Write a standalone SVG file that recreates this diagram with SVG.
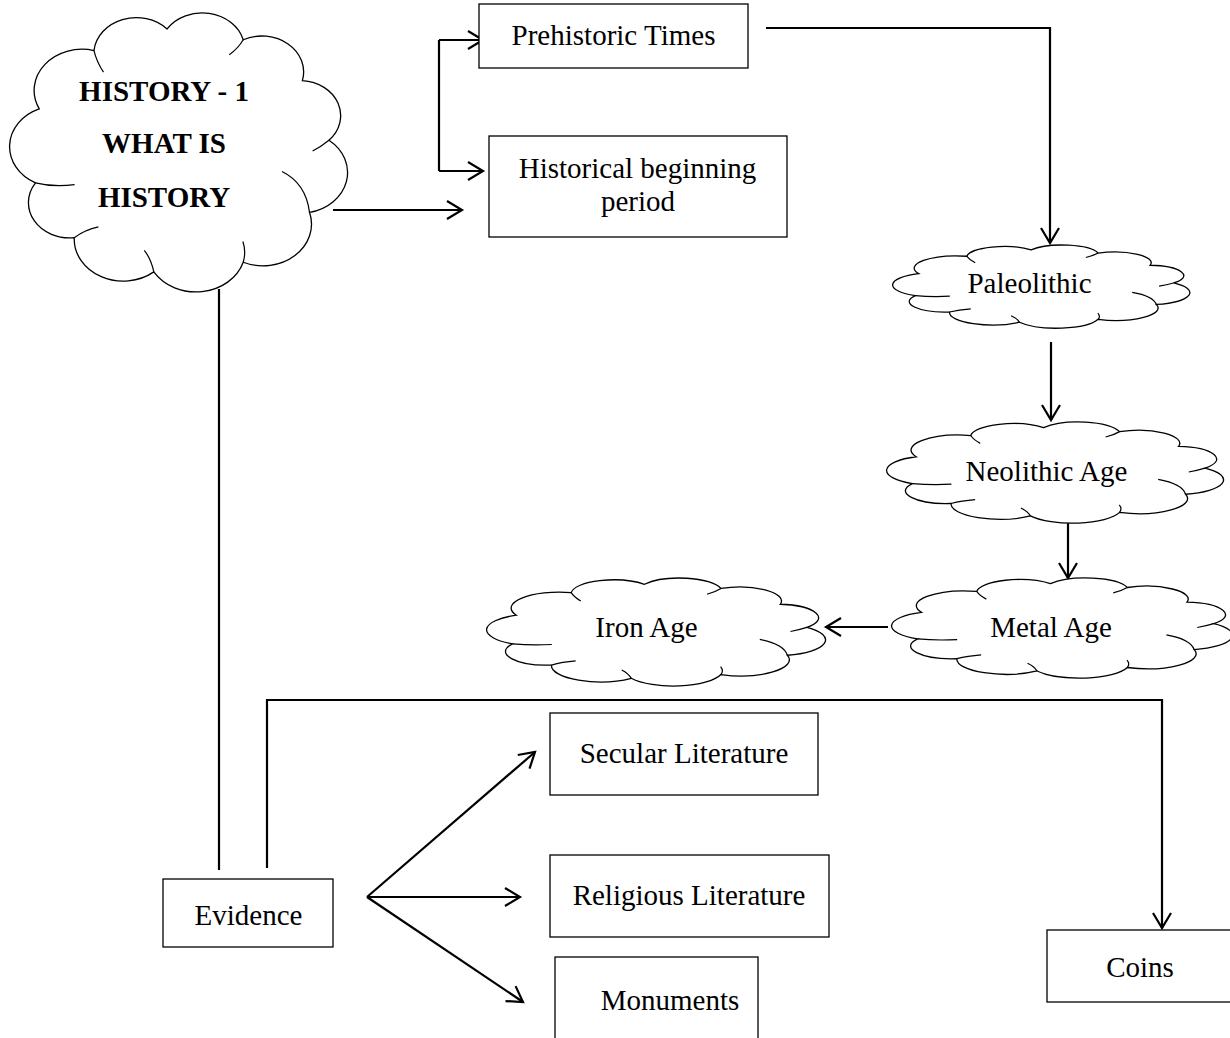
<svg xmlns="http://www.w3.org/2000/svg" width="1230" height="1038" viewBox="0 0 1230 1038">
<style>
.box{fill:#fff;stroke:#000;stroke-width:1.3}
.lbl{font-family:"Liberation Serif","Times New Roman",serif;font-size:29px;text-anchor:middle;fill:#000}
.title{font-family:"Liberation Serif","Times New Roman",serif;font-weight:bold;font-size:29px;text-anchor:middle;fill:#000}
.conn{fill:none;stroke:#000;stroke-width:2.2}
.cl{fill:#fff;stroke:#000;stroke-width:1.3;vector-effect:non-scaling-stroke}
.ci{fill:none;stroke:#000;stroke-width:1.2;vector-effect:non-scaling-stroke}
</style>
<defs>
<marker id="ah" markerUnits="userSpaceOnUse" markerWidth="20" markerHeight="22" refX="16" refY="10" orient="auto" overflow="visible">
<path d="M1,1 L16,10 L1,19" fill="none" stroke="#000" stroke-width="2.2"/>
</marker>
<symbol id="cloud" viewBox="0 0 100 100" preserveAspectRatio="none" overflow="visible">
<path class="cl" d="M8.6,35.6 A14.1,14.1 0 0 1 24.7,15.6 A12.5,12.5 0 0 1 46.2,8.2 A12.5,12.5 0 0 1 68.6,11.9 A12.3,12.3 0 0 1 86,25.9 A12,12 0 0 1 93.8,46.3 A13.9,13.9 0 0 1 88.1,71 A14.3,14.3 0 0 1 68.6,88.1 A14.6,14.6 0 0 1 42.3,91.4 A14.4,14.4 0 0 1 18.9,79.7 A12.1,12.1 0 0 1 7.5,60.9 A13.9,13.9 0 0 1 8.6,35.6 Z"/>
<path class="ci" d="M7.5,60.9 Q13,62.5 19,61.5 M88.1,71 Q87,61 80,57 M42.3,91.4 Q41.5,87 39.5,84 M68.6,88.1 Q69.5,84.5 68.5,81 M24.7,15.6 Q25.5,19.5 27.5,23 M68.6,11.9 Q67,15 64.5,17 M18.9,79.7 Q22,77 26,76 M93.8,46.3 Q91.5,48.5 89,50"/>
</symbol>
</defs>
<rect width="1230" height="1038" fill="#fff"/>

<g id="connectors">
<path class="conn" d="M333,210 H462" marker-end="url(#ah)"/>
<path class="conn" d="M439,40 V171"/>
<path class="conn" d="M439,40 H483" marker-end="url(#ah)"/>
<path class="conn" d="M439,171 H483" marker-end="url(#ah)"/>
<path class="conn" d="M766,28 H1050 V243" marker-end="url(#ah)"/>
<path class="conn" d="M1051,342 V420" marker-end="url(#ah)"/>
<path class="conn" d="M1068,523 V578" stroke-width="2.8" marker-end="url(#ah)"/>
<path class="conn" d="M888,627 H826" marker-end="url(#ah)"/>
<path class="conn" d="M219,289 V870"/>
<path class="conn" d="M267,868 V700 H1162 V928" marker-end="url(#ah)"/>
<path class="conn" d="M367,897 L535,752" marker-end="url(#ah)"/>
<path class="conn" d="M367,897 H520" marker-end="url(#ah)"/>
<path class="conn" d="M367,897 L523,1002" marker-end="url(#ah)"/>
</g>

<g id="history">
<use href="#cloud" x="10" y="5" width="340" height="292"/>
<text class="title" x="164" y="101">HISTORY - 1</text>
<text class="title" x="164" y="153">WHAT IS</text>
<text class="title" x="164" y="207">HISTORY</text>
</g>

<g id="prehistoric">
<rect class="box" x="479" y="4" width="269" height="64"/>
<text class="lbl" x="613.5" y="45">Prehistoric Times</text>
</g>

<g id="historical">
<rect class="box" x="489" y="136" width="298" height="101"/>
<text class="lbl" x="637.5" y="177.5">Historical beginning</text>
<text class="lbl" x="638" y="211">period</text>
</g>

<g id="paleolithic">
<use href="#cloud" x="893" y="242.7" width="299" height="87"/>
<text class="lbl" x="1029.5" y="293">Paleolithic</text>
</g>

<g id="neolithic">
<use href="#cloud" x="887" y="419" width="339" height="106"/>
<text class="lbl" x="1046.5" y="481">Neolithic Age</text>
</g>

<g id="metal">
<use href="#cloud" x="892" y="575" width="343" height="105"/>
<text class="lbl" x="1051" y="637">Metal Age</text>
</g>

<g id="iron">
<use href="#cloud" x="487" y="575" width="341" height="113"/>
<text class="lbl" x="646.5" y="637">Iron Age</text>
</g>

<g id="evidence">
<rect class="box" x="163" y="879" width="170" height="68"/>
<text class="lbl" x="248.5" y="925">Evidence</text>
</g>

<g id="secular">
<rect class="box" x="550" y="713" width="268" height="82"/>
<text class="lbl" x="684" y="763">Secular Literature</text>
</g>

<g id="religious">
<rect class="box" x="550" y="855" width="279" height="82"/>
<text class="lbl" x="689" y="905">Religious Literature</text>
</g>

<g id="monuments">
<rect class="box" x="555" y="957" width="203" height="95"/>
<text class="lbl" x="670" y="1010">Monuments</text>
</g>

<g id="coins">
<rect class="box" x="1047" y="930" width="190" height="72"/>
<text class="lbl" x="1140" y="977">Coins</text>
</g>
</svg>
